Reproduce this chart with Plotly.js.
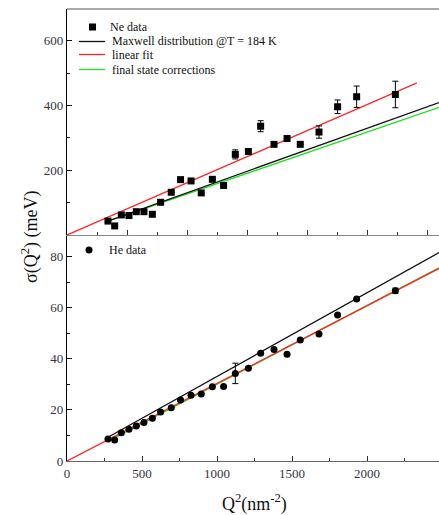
<!DOCTYPE html>
<html>
<head>
<meta charset="utf-8">
<script src="https://cdn.plot.ly/plotly-3.0.1.min.js"></script>
<style>html,body{margin:0;padding:0;background:#fff;}#chart{width:439px;height:515px;}</style>
</head>
<body>
<div id="chart"></div>
<script>
// ---- data ----
var q2 = [273,318,362,413,462,513,569,624,695,757,827,895,969,1044,1122,1209,1291,1380,1467,1555,1680,1804,1931,2189];
var neSigma = [43,28,62,60,72,72,64,101,132,171,167,130,172,153,249,258,336,280,298,280,318,396,427,434];
var neErr   = [0,0,0,0,0,0,0,0,0,0,0,0,0,0,14,9,17,0,0,0,19,21,33,41];
var heSigma = [8.6,8.2,11.1,12.4,13.7,15.1,16.7,19.2,20.9,23.9,25.7,26.2,29.1,29.2,34.3,36.3,42.2,43.7,41.8,47.4,49.7,57.2,63.4,66.7];
var heErr   = [0,0,0,0,0,0,0,0,0,0,0,0,0,0,4.0,0,0,0,0,0,0,0,0,1.0];

var modelX    = [273, 2480];
var neMaxwell = [43, 409];
var neFinal   = [43, 394];
var neFitX    = [0, 2333];
var neLinear  = [0, 470];

var heMaxwell = [9.3, 81.6];
var heFinal   = [7.7, 75.6];
var heFitX    = [0, 2480];
var heLinear  = [0, 75.4];

var legendNe = ['Ne data', 'Maxwell distribution @T = 184 K', 'linear fit', 'final state corrections'];
var legendHe = ['He data'];

// ---- styles ----
var SERIF = 'Liberation Serif, Times New Roman, serif';
var RED = '#ff2626', GREEN = '#1ee01e', BLACK = '#111111';
var L = 67, R = 0, T = 9, B = 54, W = 439, H = 515;
var PW = W - L - R, PH = H - T - B;
function px(p){ return (p - L) / PW; }
function py(p){ return (H - B - p) / PH; }

var traces = [
  // top panel (Ne)
  {x: modelX, y: neFinal, xaxis:'x2', yaxis:'y2', mode:'lines', line:{color:GREEN, width:1.3}, name:legendNe[3], showlegend:false},
  {x: modelX, y: neMaxwell, xaxis:'x2', yaxis:'y2', mode:'lines', line:{color:BLACK, width:1.3}, name:legendNe[1], showlegend:false},
  {x: neFitX, y: neLinear, xaxis:'x2', yaxis:'y2', mode:'lines', line:{color:RED, width:1.3}, name:legendNe[2], showlegend:false},
  {x: q2, y: neSigma, xaxis:'x2', yaxis:'y2', mode:'markers', name:legendNe[0], showlegend:false,
   marker:{symbol:'square', size:7, color:'#000'},
   error_y:{type:'data', array:neErr, visible:true, color:'#000', thickness:1, width:3}},
  // bottom panel (He)
  {x: modelX, y: heMaxwell, xaxis:'x', yaxis:'y', mode:'lines', line:{color:BLACK, width:1.3}, showlegend:false},
  {x: modelX, y: heFinal, xaxis:'x', yaxis:'y', mode:'lines', line:{color:GREEN, width:1.3}, showlegend:false},
  {x: heFitX, y: heLinear, xaxis:'x', yaxis:'y', mode:'lines', line:{color:RED, width:1.3}, showlegend:false},
  {x: q2, y: heSigma, xaxis:'x', yaxis:'y', mode:'markers', name:legendHe[0], showlegend:false,
   marker:{symbol:'circle', size:7, color:'#000'},
   error_y:{type:'data', array:heErr, visible:true, color:'#000', thickness:1, width:3}}
];

var tickFont = {family: SERIF, size: 13, color: '#333340'};

var layout = {
  width: W, height: H,
  margin: {l: L, r: R, t: T, b: B, pad: 0},
  paper_bgcolor: '#fff', plot_bgcolor: '#fff',
  showlegend: false,
  font: {family: SERIF, color: '#111'},
  xaxis: {
    domain: [0, 1], anchor: 'y', range: [0, 2480],
    tickmode: 'linear', tick0: 0, dtick: 500,
    ticks: 'inside', ticklen: 5, tickwidth: 1, tickcolor: '#333',
    minor: {tickmode: 'linear', tick0: 0, dtick: 250, ticks: 'inside', ticklen: 3, tickcolor: '#333'},
    showline: true, linecolor: '#666', linewidth: 1.2,
    showgrid: false, zeroline: false, tickfont: tickFont
  },
  xaxis2: {
    domain: [0, 1], anchor: 'y2', matches: 'x', range: [0, 2480],
    tickmode: 'linear', tick0: 0, dtick: 400, showticklabels: false,
    ticks: 'inside', ticklen: 5, tickwidth: 1, tickcolor: '#333',
    minor: {tickmode: 'linear', tick0: 0, dtick: 200, ticks: 'inside', ticklen: 3, tickcolor: '#333'},
    showline: true, linecolor: '#888', linewidth: 1.2,
    showgrid: false, zeroline: false
  },
  yaxis: {
    domain: [0, 0.5], anchor: 'x', range: [0, 88.5],
    tickmode: 'array', tickvals: [0, 20, 40, 60, 80],
    ticks: 'inside', ticklen: 5, tickwidth: 1, tickcolor: '#111',
    minor: {tickmode: 'array', tickvals: [10, 30, 50, 70], ticks: 'inside', ticklen: 3, tickcolor: '#111'},
    showline: true, linecolor: '#000', linewidth: 1.2,
    showgrid: false, zeroline: false, tickfont: tickFont
  },
  yaxis2: {
    domain: [0.5, 1], anchor: 'x2', range: [0, 698],
    tickmode: 'array', tickvals: [200, 400, 600],
    ticks: 'inside', ticklen: 5, tickwidth: 1, tickcolor: '#111',
    minor: {tickmode: 'array', tickvals: [100, 300, 500], ticks: 'inside', ticklen: 3, tickcolor: '#111'},
    showline: true, linecolor: '#000', linewidth: 1.2,
    showgrid: false, zeroline: false, tickfont: tickFont
  },
  shapes: [
    // top frame line
    {type:'line', xref:'paper', yref:'paper', x0:0, x1:1, y0:1, y1:1, line:{color:'#555', width:1.2}},
    // legend samples (top panel)
    {type:'rect', xref:'paper', yref:'paper', x0:px(89), x1:px(96), y0:py(30.5), y1:py(23.5), fillcolor:'#000', line:{width:0}},
    {type:'line', xref:'paper', yref:'paper', x0:px(79), x1:px(105), y0:py(41.5), y1:py(41.5), line:{color:BLACK, width:1.3}},
    {type:'line', xref:'paper', yref:'paper', x0:px(79), x1:px(105), y0:py(54.5), y1:py(54.5), line:{color:RED, width:1.3}},
    {type:'line', xref:'paper', yref:'paper', x0:px(79), x1:px(105), y0:py(69.5), y1:py(69.5), line:{color:GREEN, width:1.3}},
    // legend sample (bottom panel)
    {type:'circle', xref:'paper', yref:'paper', x0:px(85.5), x1:px(92.5), y0:py(253.5), y1:py(246.5), fillcolor:'#000', line:{width:0}}
  ],
  annotations: [
    {text: legendNe[0], xref:'paper', yref:'paper', x:px(108), y:py(27), xanchor:'left', yanchor:'middle', showarrow:false, font:{family:SERIF, size:12, color:'#111'}},
    {text: legendNe[1], xref:'paper', yref:'paper', x:px(110), y:py(41), xanchor:'left', yanchor:'middle', showarrow:false, font:{family:SERIF, size:12, color:'#111'}},
    {text: legendNe[2], xref:'paper', yref:'paper', x:px(110), y:py(55), xanchor:'left', yanchor:'middle', showarrow:false, font:{family:SERIF, size:12, color:'#111'}},
    {text: legendNe[3], xref:'paper', yref:'paper', x:px(110), y:py(69.5), xanchor:'left', yanchor:'middle', showarrow:false, font:{family:SERIF, size:12, color:'#111'}},
    {text: legendHe[0], xref:'paper', yref:'paper', x:px(107), y:py(250), xanchor:'left', yanchor:'middle', showarrow:false, font:{family:SERIF, size:12, color:'#111'}},
    {text: 'σ(Q<sup>2</sup>) (meV)', xref:'paper', yref:'paper', x:px(30), y:py(237), xanchor:'center', yanchor:'middle', textangle:-90, showarrow:false, font:{family:SERIF, size:18, color:'#111'}},
    {text: 'Q<sup>2</sup>(nm<sup>-2</sup>)', xref:'paper', yref:'paper', x:px(254), y:py(503), xanchor:'center', yanchor:'middle', showarrow:false, font:{family:SERIF, size:18, color:'#111'}}
  ]
};

Plotly.newPlot('chart', traces, layout, {displayModeBar: false, staticPlot: true});
</script>
</body>
</html>
